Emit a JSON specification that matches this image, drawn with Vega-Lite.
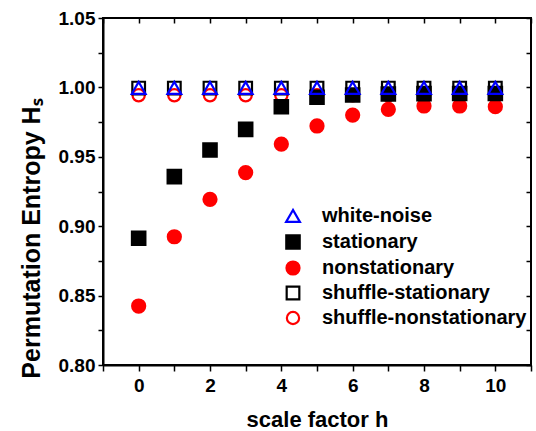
{
  "$schema": "https://vega.github.io/schema/vega-lite/v6.json",
  "autosize": "none",
  "width": 428,
  "height": 347,
  "padding": {"left": 103, "top": 18, "right": 5, "bottom": 66},
  "background": "white",
  "config": {
    "view": {"stroke": "black", "strokeWidth": 2},
    "font": "Liberation Sans",
    "axis": {
      "labelFont": "Liberation Sans",
      "labelFontWeight": "bold",
      "labelFontSize": 19,
      "labelColor": "black",
      "titleFont": "Liberation Sans",
      "titleFontWeight": "bold",
      "titleColor": "black",
      "domainColor": "black",
      "domainWidth": 2,
      "tickColor": "black",
      "tickWidth": 1.5,
      "grid": false
    }
  },
  "data": {
    "values": [
      {"h": 0, "series": "shuffle-nonstationary", "H": 0.9943},
      {"h": 1, "series": "shuffle-nonstationary", "H": 0.9943},
      {"h": 2, "series": "shuffle-nonstationary", "H": 0.9943},
      {"h": 3, "series": "shuffle-nonstationary", "H": 0.9943},
      {"h": 4, "series": "shuffle-nonstationary", "H": 0.9943},
      {"h": 5, "series": "shuffle-nonstationary", "H": 0.9943},
      {"h": 6, "series": "shuffle-nonstationary", "H": 0.9943},
      {"h": 7, "series": "shuffle-nonstationary", "H": 0.9943},
      {"h": 8, "series": "shuffle-nonstationary", "H": 0.9943},
      {"h": 9, "series": "shuffle-nonstationary", "H": 0.9943},
      {"h": 10, "series": "shuffle-nonstationary", "H": 0.9943},
      {"h": 0, "series": "shuffle-stationary", "H": 0.9995},
      {"h": 1, "series": "shuffle-stationary", "H": 0.9995},
      {"h": 2, "series": "shuffle-stationary", "H": 0.9995},
      {"h": 3, "series": "shuffle-stationary", "H": 0.9995},
      {"h": 4, "series": "shuffle-stationary", "H": 0.9995},
      {"h": 5, "series": "shuffle-stationary", "H": 0.9995},
      {"h": 6, "series": "shuffle-stationary", "H": 0.9995},
      {"h": 7, "series": "shuffle-stationary", "H": 0.9995},
      {"h": 8, "series": "shuffle-stationary", "H": 0.9995},
      {"h": 9, "series": "shuffle-stationary", "H": 0.9995},
      {"h": 10, "series": "shuffle-stationary", "H": 0.9995},
      {"h": 0, "series": "nonstationary", "H": 0.8425},
      {"h": 1, "series": "nonstationary", "H": 0.8924},
      {"h": 2, "series": "nonstationary", "H": 0.9194},
      {"h": 3, "series": "nonstationary", "H": 0.9386},
      {"h": 4, "series": "nonstationary", "H": 0.9592},
      {"h": 5, "series": "nonstationary", "H": 0.9722},
      {"h": 6, "series": "nonstationary", "H": 0.9801},
      {"h": 7, "series": "nonstationary", "H": 0.9842},
      {"h": 8, "series": "nonstationary", "H": 0.9866},
      {"h": 9, "series": "nonstationary", "H": 0.9866},
      {"h": 10, "series": "nonstationary", "H": 0.9861},
      {"h": 0, "series": "stationary", "H": 0.8913},
      {"h": 1, "series": "stationary", "H": 0.9357},
      {"h": 2, "series": "stationary", "H": 0.9549},
      {"h": 3, "series": "stationary", "H": 0.9698},
      {"h": 4, "series": "stationary", "H": 0.9861},
      {"h": 5, "series": "stationary", "H": 0.9929},
      {"h": 6, "series": "stationary", "H": 0.9945},
      {"h": 7, "series": "stationary", "H": 0.9952},
      {"h": 8, "series": "stationary", "H": 0.9955},
      {"h": 9, "series": "stationary", "H": 0.9956},
      {"h": 10, "series": "stationary", "H": 0.9956},
      {"h": 0, "series": "white-noise", "H": 0.9997},
      {"h": 1, "series": "white-noise", "H": 0.9997},
      {"h": 2, "series": "white-noise", "H": 0.9997},
      {"h": 3, "series": "white-noise", "H": 0.9997},
      {"h": 4, "series": "white-noise", "H": 0.9997},
      {"h": 5, "series": "white-noise", "H": 0.9997},
      {"h": 6, "series": "white-noise", "H": 0.9997},
      {"h": 7, "series": "white-noise", "H": 0.9997},
      {"h": 8, "series": "white-noise", "H": 0.9997},
      {"h": 9, "series": "white-noise", "H": 0.9997},
      {"h": 10, "series": "white-noise", "H": 0.9997}
    ]
  },
  "layer": [
    {
      "mark": {"type": "point", "strokeWidth": 2.2, "opacity": 1},
      "encoding": {
        "x": {
          "field": "h", "type": "quantitative",
          "scale": {"domain": [-1, 11], "nice": false, "zero": false},
          "axis": {
            "orient": "bottom",
            "values": [-1, 0, 1, 2, 3, 4, 5, 6, 7, 8, 9, 10, 11],
            "labelExpr": "datum.value % 2 == 0 && datum.value >= 0 && datum.value <= 10 ? datum.label : ''",
            "tickSize": 6,
            "labelPadding": 5,
            "title": "scale factor h",
            "titleFontSize": 22,
            "titlePadding": 14
          }
        },
        "y": {
          "field": "H", "type": "quantitative",
          "scale": {"domain": [0.8, 1.05], "nice": false, "zero": false},
          "axis": {
            "orient": "left",
            "values": [0.8, 0.825, 0.85, 0.875, 0.9, 0.925, 0.95, 0.975, 1.0, 1.025, 1.05],
            "format": ".2f",
            "labelExpr": "abs(round(datum.value * 1000) % 50) < 1 ? datum.label : ''",
            "tickSize": 5,
            "labelPadding": 3,
            "title": "Permutation Entropy Hₛ",
            "titleFontSize": 25,
            "titlePadding": 14,
            "titleY": 220
          }
        },
        "shape": {
          "field": "series", "type": "nominal",
          "scale": {
            "domain": ["white-noise", "stationary", "nonstationary", "shuffle-stationary", "shuffle-nonstationary"],
            "range": ["triangle-up", "square", "circle", "square", "circle"]
          },
          "legend": {
            "title": null,
            "orient": "none",
            "legendX": 180,
            "legendY": 188,
            "padding": 0,
            "labelFont": "Liberation Sans",
            "labelFontSize": 20,
            "labelFontWeight": "bold",
            "labelColor": "black",
            "labelLimit": 0,
            "labelOffset": 19,
            "symbolStrokeWidth": 2.2,
            "rowPadding": 3
          }
        },
        "size": {
          "field": "series", "type": "nominal",
          "scale": {
            "domain": ["white-noise", "stationary", "nonstationary", "shuffle-stationary", "shuffle-nonstationary"],
            "range": [190, 150, 165, 150, 175]
          }
        },
        "fill": {
          "field": "series", "type": "nominal",
          "scale": {
            "domain": ["white-noise", "stationary", "nonstationary", "shuffle-stationary", "shuffle-nonstationary"],
            "range": ["transparent", "black", "red", "transparent", "transparent"]
          }
        },
        "stroke": {
          "field": "series", "type": "nominal",
          "scale": {
            "domain": ["white-noise", "stationary", "nonstationary", "shuffle-stationary", "shuffle-nonstationary"],
            "range": ["blue", "black", "red", "black", "red"]
          }
        }
      }
    },
    {
      "mark": {"type": "point", "opacity": 0},
      "encoding": {
        "x": {
          "field": "h", "type": "quantitative",
          "scale": {"domain": [-1, 11], "nice": false, "zero": false},
          "axis": {
            "orient": "top",
            "values": [-1, 0, 1, 2, 3, 4, 5, 6, 7, 8, 9, 10, 11],
            "labels": false,
            "domain": false,
            "tickSize": -5,
            "title": null
          }
        },
        "y": {
          "field": "H", "type": "quantitative",
          "scale": {"domain": [0.8, 1.05], "nice": false, "zero": false},
          "axis": {
            "orient": "right",
            "values": [0.8, 0.825, 0.85, 0.875, 0.9, 0.925, 0.95, 0.975, 1.0, 1.025, 1.05],
            "labels": false,
            "domain": false,
            "tickSize": -5,
            "title": null
          }
        }
      }
    }
  ],
  "resolve": {"axis": {"x": "independent", "y": "independent"}}
}
